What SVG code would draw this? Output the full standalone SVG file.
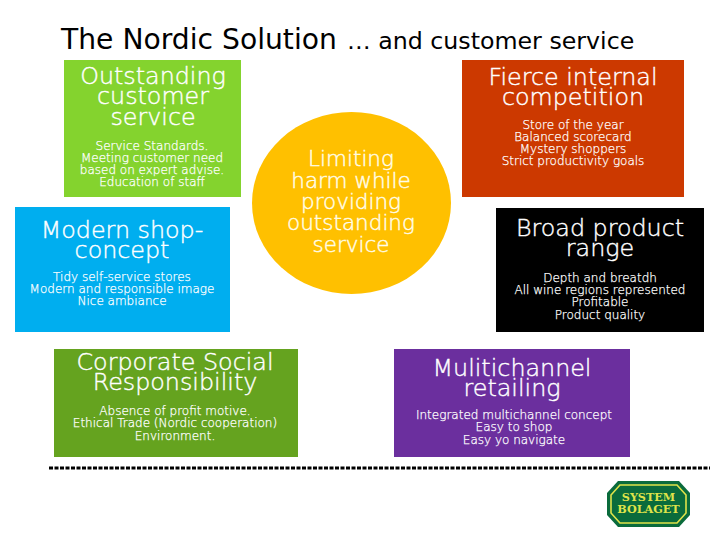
<svg xmlns="http://www.w3.org/2000/svg" width="720" height="540" viewBox="0 0 720 540">
<style>
text{font-family:"DejaVu Sans","Verdana",sans-serif;font-weight:200;text-anchor:middle}
.t{font-weight:400;text-anchor:start;fill:#000}
.h{font-size:23.8px;fill:#fff;stroke:#fff;stroke-width:.4px}
.s{font-size:12px;fill:#fff;stroke:#fff;stroke-width:.25px}
.c{font-size:21.5px;fill:#fffde8;stroke:#fffde8;stroke-width:.45px}
.l{font-family:"DejaVu Serif",serif;font-weight:bold;font-size:11.2px;fill:#dfe34a}
</style>
<rect width="720" height="540" fill="#fff"/>
<text class="t" x="61" y="49" font-size="28.2">The Nordic Solution</text>
<text class="t" x="347" y="49" font-size="23.7">… and customer service</text>
<g id="n1"><rect x="64" y="60" width="177" height="137" fill="#84d32e"/>
<text class="h" x="153" y="84">Outstanding</text><text class="h" x="153" y="104">customer</text><text class="h" x="153" y="125">service</text>
<text class="s" x="152" y="150">Service Standards.</text><text class="s" x="152" y="162">Meeting customer need</text><text class="s" x="152" y="174">based on expert advise.</text><text class="s" x="152" y="186">Education of staff</text></g>
<g id="n2"><rect x="462" y="60" width="222" height="137" fill="#cc3900"/>
<text class="h" x="573" y="85">Fierce internal</text><text class="h" x="573" y="105">competition</text>
<text class="s" x="573" y="129">Store of the year</text><text class="s" x="573" y="141">Balanced scorecard</text><text class="s" x="573" y="153">Mystery shoppers</text><text class="s" x="573" y="165">Strict productivity goals</text></g>
<g id="n3"><rect x="15" y="207" width="215" height="125" fill="#00aeef"/>
<text class="h" x="122" y="238">Modern shop-</text><text class="h" x="122" y="258">concept</text>
<text class="s" x="122" y="281">Tidy self-service stores</text><text class="s" x="122" y="293">Modern and responsible image</text><text class="s" x="122" y="305">Nice ambiance</text></g>
<g id="n4"><rect x="496" y="208" width="208" height="124" fill="#000"/>
<text class="h" x="600" y="236">Broad product</text><text class="h" x="600" y="256">range</text>
<text class="s" x="600" y="282">Depth and breatdh</text><text class="s" x="600" y="294">All wine regions represented</text><text class="s" x="600" y="306">Profitable</text><text class="s" x="600" y="319">Product quality</text></g>
<g id="n5"><ellipse cx="351.5" cy="203" rx="99.5" ry="91" fill="#ffc000"/>
<text class="c" x="351" y="166">Limiting</text><text class="c" x="351" y="188">harm while</text><text class="c" x="351" y="209">providing</text><text class="c" x="351" y="230">outstanding</text><text class="c" x="351" y="252">service</text></g>
<g id="n6"><rect x="54" y="349" width="244" height="108" fill="#65a31f"/>
<text class="h" x="175" y="370">Corporate Social</text><text class="h" x="175" y="390">Responsibility</text>
<text class="s" x="175" y="415">Absence of profit motive.</text><text class="s" x="175" y="427">Ethical Trade (Nordic cooperation)</text><text class="s" x="175" y="440">Environment.</text></g>
<g id="n7"><rect x="394" y="349" width="236" height="108" fill="#6b2f9e"/>
<text class="h" x="512" y="376">Mulitichannel</text><text class="h" x="512" y="396">retailing</text>
<text class="s" x="514" y="419">Integrated multichannel concept</text><text class="s" x="514" y="431">Easy to shop</text><text class="s" x="514" y="444">Easy yo navigate</text></g>
<g id="connectors"><line x1="49" y1="468" x2="710" y2="468" stroke="#000" stroke-width="3" stroke-dasharray="4 1.5"/></g>
<g id="logo"><path d="M618 481H679L690 493V515L679 527H618L607 515V493Z" fill="#0a6b3c"/>
<path d="M620 485H677L686 495V513L677 523H620L611 513V495Z" fill="#0a6b3c" stroke="#dfe34a" stroke-width="1.6"/>
<text class="l" x="648.5" y="501">SYSTEM</text>
<text class="l" x="648.5" y="513">BOLAGET</text></g>
</svg>
